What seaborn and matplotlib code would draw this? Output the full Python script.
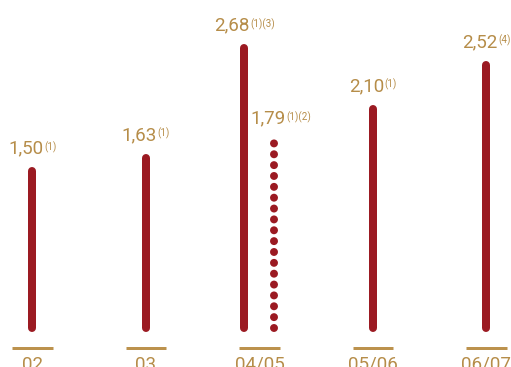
import matplotlib
matplotlib.use("Agg")
import matplotlib.pyplot as plt
import seaborn as sns
import pandas as pd

# Dividend per share by fiscal year
categories = ["02", "03", "04/05", "05/06", "06/07"]
main_values = [1.50, 1.63, 2.68, 2.10, 2.52]
main_labels = ["1,50", "1,63", "2,68", "2,10", "2,52"]
main_notes = ["(1)", "(1)", "(1)(3)", "(1)", "(4)"]

# Supplementary figure for 04/05, drawn dotted
extra_category = "04/05"
extra_value = 1.79
extra_label = "1,79"
extra_note = "(1)(2)"

RED = "#9B1A22"
GOLD = "#B68D49"
RULE = "#BC924D"
FONT = "Roboto"
WEIGHT = "normal"

sns.set_theme(style="white")
plt.rcParams["font.family"] = [FONT, "DejaVu Sans"]

W, H, DPI = 5.11, 3.67, 100
fig = plt.figure(figsize=(W, H), dpi=DPI)
ax = fig.add_axes([0, 0, 1, 1])

PAIR_SHIFT = 0.132
pos = {c: i for i, c in enumerate(categories)}
main_x = [pos[c] - (PAIR_SHIFT if c == extra_category else 0.0) for c in categories]
extra_x = pos[extra_category] + PAIR_SHIFT

# Each bar is a vertical segment from zero up to its value
main_df = pd.DataFrame({
    "x": [x for x in main_x for _ in range(2)],
    "y": [y for v in main_values for y in (0.0, v)],
    "bar": [c for c in categories for _ in range(2)],
})
extra_df = pd.DataFrame({"x": [extra_x, extra_x], "y": [0.0, extra_value], "bar": ["extra", "extra"]})

LW = 8 * 72 / DPI
sns.lineplot(data=main_df, x="x", y="y", units="bar", estimator=None, sort=False,
             color=RED, lw=LW, solid_capstyle="round", ax=ax, legend=False)
sns.lineplot(data=extra_df, x="x", y="y", units="bar", estimator=None, sort=False,
             color=RED, lw=LW, linestyle=(0, (0.001, 10.85 / 8)), dash_capstyle="round",
             ax=ax, legend=False)
ax.set_xlim(-0.286, 4.216)
ax.set_ylim(-0.373, 3.139)
ax.axis("off")

# Gold rules and year labels beneath each group
for i, c in enumerate(categories):
    ax.hlines(-0.191, i - 0.18, i + 0.18, color=RULE, lw=3 * 72 / DPI, capstyle="butt")
    ax.text(i, -0.397, c, ha="center", va="baseline", color=GOLD, fontsize=13.5,
            fontweight=WEIGHT, clip_on=False)

# Value labels with footnote markers
labels = []
def value_label(x, v, text, note, nudge=0.0):
    t = ax.text(x + nudge, v + 0.167, text, ha="center", va="baseline", color=GOLD,
                fontsize=13.5, fontweight=WEIGHT)
    s = ax.annotate(note, xy=(1, 1), xycoords=t, xytext=(0.6, -1.2), textcoords="offset points",
                    ha="left", va="top", color=GOLD, fontsize=7, fontweight=WEIGHT)
    labels.append((t, s, x + nudge))

for x, v, txt, note in zip(main_x, main_values, main_labels, main_notes):
    value_label(x, v, txt, note)
value_label(extra_x, extra_value, extra_label, extra_note, nudge=0.06)

# Center each number + footnote group over its bar
fig.canvas.draw()
r = fig.canvas.get_renderer()
inv = ax.transData.inverted()
for t, s, x in labels:
    bt = t.get_window_extent(r)
    bs = s.get_window_extent(r)
    shift_px = (bs.x1 - bt.x1) / 2
    x0 = inv.transform((0, 0))[0]
    x1 = inv.transform((shift_px, 0))[0]
    t.set_x(x - (x1 - x0))

fig.savefig("out.png", dpi=DPI)
